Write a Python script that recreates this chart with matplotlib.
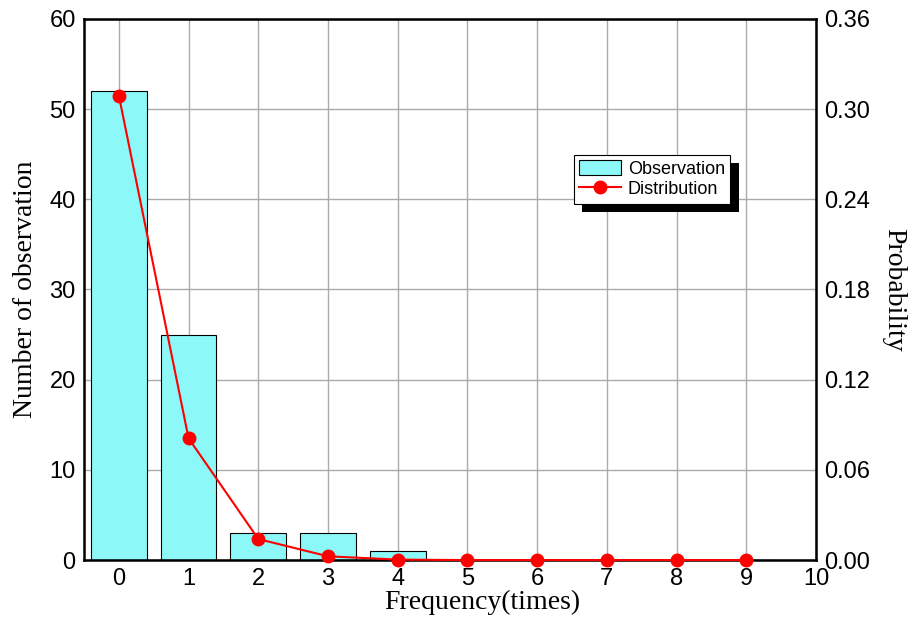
import numpy as np
import matplotlib.pyplot as plt
from matplotlib.patches import Shadow

freq = [0, 1, 2, 3, 4, 5, 6, 7, 8, 9]
observed = [52, 25, 3, 3, 1, 0, 0, 0, 0, 0]
probability = [0.309, 0.081, 0.014, 0.0025, 0.0003, 0.0, 0.0, 0.0, 0.0, 0.0]

left_ticks = [0, 10, 20, 30, 40, 50, 60]
right_ticks = [0.00, 0.06, 0.12, 0.18, 0.24, 0.30, 0.36]

sans = ['Liberation Sans', 'DejaVu Sans']
serif = ['Liberation Serif', 'DejaVu Serif']

fig = plt.figure(figsize=(9.18, 6.3), dpi=100)
ax = fig.add_axes([0.0915, 0.111, 0.7974, 0.859])

bars = ax.bar(freq, observed, width=0.8, color='#8cf8f8', edgecolor='black',
              linewidth=0.8, zorder=2, label='Observation')
ax.set_xlim(-0.5, 10)
ax.set_ylim(0, 60)
ax.set_xticks(range(0, 11))
ax.set_yticks(left_ticks)
ax.grid(True, color='#aaaaaa', linewidth=1, zorder=0)
ax.set_axisbelow(True)
ax.tick_params(direction='in', length=0, labelsize=17, pad=6)
for lab in ax.get_xticklabels() + ax.get_yticklabels():
    lab.set_family(sans)
for s in ax.spines.values():
    s.set_linewidth(1.8)
ax.set_xlabel('Frequency(times)', fontsize=20, family=serif, labelpad=4)
ax.xaxis.set_label_coords(0.544, -0.055, transform=ax.transAxes)
ax.xaxis.label.set_va('top')
ax.set_ylabel('Number of observation', fontsize=20, family=serif, labelpad=8)

ax2 = ax.twinx()
line, = ax2.plot(freq, probability, color='#ff0000', linewidth=1.5, marker='o',
                 markersize=9, clip_on=False, zorder=3, label='Distribution')
ax2.set_ylim(0, 0.36)
ax2.set_yticks(right_ticks)
ax2.set_yticklabels([f'{t:.2f}' for t in right_ticks])
ax2.tick_params(direction='in', length=0, labelsize=17, pad=6)
for lab in ax2.get_yticklabels():
    lab.set_family(sans)
ax2.set_ylabel('Probability', fontsize=20, family=serif, rotation=270, labelpad=26)

leg = ax2.legend([bars, line], ['Observation', 'Distribution'],
                 loc='upper left', bbox_to_anchor=(0.669, 0.749),
                 borderaxespad=0, fancybox=False, framealpha=1,
                 edgecolor='black', prop={'family': sans, 'size': 13},
                 handlelength=2.3, handleheight=0.9, handletextpad=0.4,
                 borderpad=0.3, labelspacing=0.15)
leg.get_frame().set_linewidth(0.8)
leg.set_zorder(10)

fig.draw_without_rendering()
sh = Shadow(leg.legendPatch, 6, -6, facecolor='black', edgecolor='none', alpha=1)
sh.set_zorder(9)
ax2.add_artist(sh)

fig.savefig('out.png', dpi=100)
